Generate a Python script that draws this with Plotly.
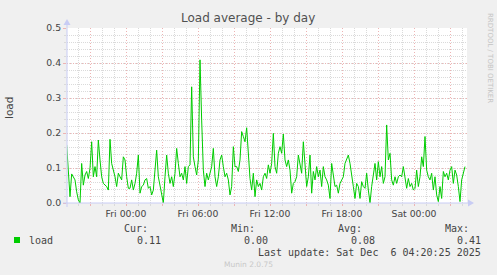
import pandas as pd
import plotly.graph_objects as go

# ---- data ----
load_part1 = [0.166, 0.094, 0.018, 0.083, 0.075, 0.066, 0.032, 0.009, 0.0, 0.113,
              0.051, 0.080, 0.090, 0.070, 0.099, 0.175, 0.075, 0.104, 0.075, 0.180,
              0.123, 0.075, 0.056, 0.051, 0.047, 0.037, 0.182, 0.113, 0.094, 0.075,
              0.047, 0.085, 0.075, 0.066, 0.132, 0.123, 0.075, 0.042, 0.042, 0.066,
              0.037, 0.056, 0.085, 0.137, 0.028, 0.047, 0.051, 0.066, 0.070, 0.042,
              0.047, 0.023, 0.037, 0.085, 0.151, 0.075, 0.047, 0.018, 0.0, 0.075,
              0.137, 0.085, 0.056, 0.075, 0.047, 0.085, 0.156, 0.113, 0.075, 0.085,
              0.066, 0.104, 0.056, 0.104, 0.109, 0.332, 0.132, 0.104, 0.080, 0.123,
              0.409, 0.237, 0.094, 0.047, 0.085, 0.066, 0.085, 0.104, 0.156, 0.075,
              0.047, 0.075, 0.123, 0.137, 0.104, 0.075, 0.085, 0.066, 0.023, 0.047,
              0.161, 0.104, 0.104, 0.090, 0.123, 0.204, 0.190, 0.175, 0.215, 0.132,
              0.070, 0.037, 0.085, 0.018, 0.066, 0.047, 0.056, 0.037, 0.075, 0.085,
              0.070, 0.109, 0.085]
load_part2 = [0.113, 0.199, 0.104, 0.085, 0.142, 0.161, 0.142, 0.197, 0.123, 0.104,
              0.123, 0.094, 0.028, 0.056, 0.061, 0.075, 0.137, 0.113, 0.085, 0.175,
              0.094, 0.047, 0.075, 0.137, 0.028, 0.090, 0.066, 0.104, 0.075, 0.094,
              0.047, 0.104, 0.075, 0.066, 0.051, 0.013, 0.113, 0.075, 0.047, 0.051,
              0.028, 0.056, 0.066, 0.075, 0.113, 0.123, 0.137, 0.113, 0.085, 0.047,
              0.013, 0.056, 0.047, 0.013, 0.061, 0.047, 0.042, 0.085, 0.037, 0.0,
              0.047, 0.075, 0.113, 0.066, 0.118, 0.075, 0.104, 0.056, 0.075, 0.223,
              0.123, 0.142, 0.066, 0.051, 0.075, 0.056, 0.075, 0.080, 0.075, 0.104,
              0.066, 0.042, 0.070, 0.047, 0.056, 0.037, 0.042, 0.094, 0.047, 0.075,
              0.132, 0.104, 0.190, 0.094, 0.075, 0.066, 0.085, 0.037, 0.075, 0.023,
              0.004, 0.047, 0.013, 0.090, 0.075, 0.085, 0.066, 0.094, 0.104, 0.056,
              0.094, 0.080, 0.047, 0.004, 0.066, 0.085, 0.104]
load_values = load_part1 + load_part2
series_start = "2025-12-04 19:03:20"
sample_step = "500s"
times = pd.date_range(series_start, periods=len(load_values), freq=sample_step)

x_range = ["2025-12-04 19:05:00", "2025-12-06 04:25:00"]
y_range = [0, 0.5]
y_ticks = [0.0, 0.1, 0.2, 0.3, 0.4, 0.5]
y_tick_text = ["0.0", "0.1", "0.2", "0.3", "0.4", "0.5"]

title_text = "Load average - by day"
legend_name = "load"
stat_labels = ["Cur:", "Min:", "Avg:", "Max:"]
stat_values = ["0.11", "0.00", "0.08", "0.41"]
last_update = "Last update: Sat Dec  6 04:20:25 2025"
footer = "Munin 2.0.75"
side_text = "RRDTOOL / TOBI OETIKER"

# ---- layout geometry ----
W, H = 497, 275
L, R, T, B = 67, 30, 28, 72
PW, PH = W - L - R, H - T - B


def px(x):
    return (x - L) / PW


def py(y):
    return (H - B - y) / PH


GREEN = "#00CC00"
RED_GRID = "#EDB4B4"
GRAY_GRID = "#DADADA"
AXIS_COL = "#C8CCF4"
TXT = "#444444"
SANS = "DejaVu Sans"
MONO = "DejaVu Sans Mono"

fig = go.Figure()
fig.add_trace(go.Scatter(x=times, y=load_values, mode="lines",
                         line=dict(color=GREEN, width=1), hoverinfo="skip",
                         showlegend=False))

fig.update_layout(
    width=W, height=H,
    margin=dict(l=L, r=R, t=T, b=B, pad=0),
    paper_bgcolor="#F0F0F0",
    plot_bgcolor="#FFFFFF",
    showlegend=False,
    xaxis=dict(
        type="date", range=x_range,
        tickmode="linear", tick0="2025-12-05 00:00:00", dtick=3 * 3600 * 1000,
        tickformat="%a %H:%M",
        labelalias={"Thu 21:00": " ", "Fri 03:00": " ", "Fri 09:00": " ",
                    "Fri 15:00": " ", "Fri 21:00": " ", "Sat 03:00": " "},
        showgrid=True, gridcolor=RED_GRID, gridwidth=1, griddash="1px,2px",
        ticks="outside", ticklen=2, tickcolor=RED_GRID,
        tickfont=dict(family=SANS, size=9.3, color=TXT),
        minor=dict(dtick=3600 * 1000, showgrid=True, gridcolor=GRAY_GRID,
                   griddash="1px,1px", ticks="outside", ticklen=2,
                   tickcolor=GRAY_GRID),
        showline=False, zeroline=False, fixedrange=True,
    ),
    yaxis=dict(
        range=y_range, tickmode="array", tickvals=y_ticks, ticktext=y_tick_text,
        showgrid=True, gridcolor=RED_GRID, gridwidth=1, griddash="1px,2px",
        ticks="outside", ticklen=3, tickcolor=RED_GRID,
        tickfont=dict(family=SANS, size=9.3, color=TXT),
        minor=dict(dtick=0.02, showgrid=True, gridcolor=GRAY_GRID,
                   griddash="1px,1px", ticks="outside", ticklen=2,
                   tickcolor=GRAY_GRID),
        showline=False, zeroline=False, fixedrange=True,
    ),
)

shapes = [
    # axes
    dict(type="line", xref="paper", yref="paper", x0=px(63), x1=px(470),
         y0=py(203), y1=py(203), line=dict(color=AXIS_COL, width=1)),
    dict(type="line", xref="paper", yref="paper", x0=px(67), x1=px(67),
         y0=py(207), y1=py(23), line=dict(color=AXIS_COL, width=1)),
    # arrow heads
    dict(type="path", xref="paper", yref="paper",
         path=f"M {px(468)} {py(199.5)} L {px(474)} {py(203)} L {px(468)} {py(206.5)} Z",
         fillcolor=AXIS_COL, line=dict(width=0)),
    dict(type="path", xref="paper", yref="paper",
         path=f"M {px(63.5)} {py(25)} L {px(67)} {py(19)} L {px(70.5)} {py(25)} Z",
         fillcolor=AXIS_COL, line=dict(width=0)),
    # legend swatch
    dict(type="rect", xref="paper", yref="paper", x0=px(14), x1=px(20),
         y0=py(243), y1=py(237), fillcolor=GREEN, line=dict(width=0)),
]
fig.update_layout(shapes=shapes)

ann = []


def add_text(text, x, y, size, family=SANS, color=TXT, xanchor="center",
             angle=0):
    ann.append(dict(text=text, x=px(x), y=py(y), xref="paper", yref="paper",
                    showarrow=False, xanchor=xanchor, yanchor="middle",
                    textangle=angle,
                    font=dict(family=family, size=size, color=color)))


add_text(title_text, 248, 18, 12, color="#505050")
add_text("load", 9, 108, 10.5, angle=-90)
add_text(side_text, 490, 58, 7, color="#C4C4C4", angle=90)
add_text(legend_name, 27, 240, 10, family=MONO, xanchor="left")
stat_label_right = [150, 257, 363.5, 470.5]
stat_value_right = [163, 269.5, 376.5, 483]
for lab, val, xl, xv in zip(stat_labels, stat_values, stat_label_right,
                            stat_value_right):
    add_text(lab, xl, 228, 10, family=MONO, xanchor="right")
    add_text(val, xv, 240, 10, family=MONO, xanchor="right")
add_text(last_update, 483, 252, 10, family=MONO, xanchor="right")
add_text(footer, 248, 264, 7.5, color="#C8C8C8")

fig.update_layout(annotations=ann)

fig.write_html("out.html")
